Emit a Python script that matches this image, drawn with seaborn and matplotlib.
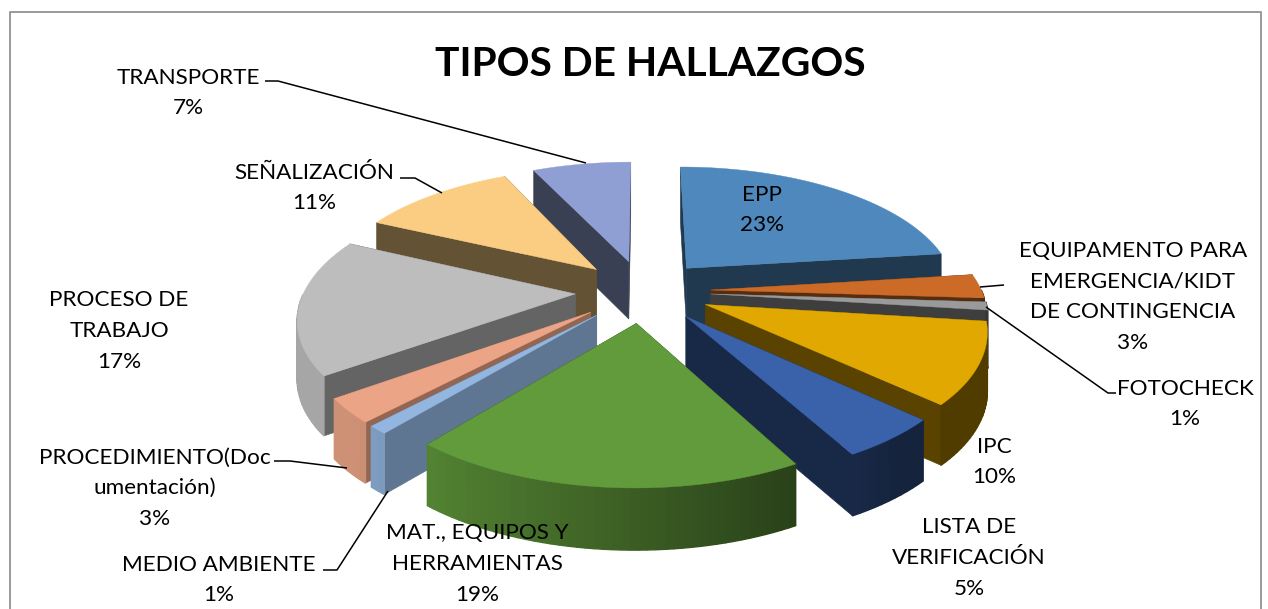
import numpy as np
import seaborn as sns
import matplotlib.pyplot as plt

# Data
categories = ['EPP', 'EQUIPAMENTO PARA\nEMERGENCIA/KIDT\nDE CONTINGENCIA', 'FOTOCHECK', 'IPC',
              'LISTA DE\nVERIFICACIÓN', 'MAT., EQUIPOS Y\nHERRAMIENTAS', 'MEDIO AMBIENTE',
              'PROCEDIMIENTO(Doc\numentación)', 'PROCESO DE\nTRABAJO', 'SEÑALIZACIÓN', 'TRANSPORTE']
values = [23, 3, 1, 10, 5, 19, 1, 3, 17, 11, 7]
colors = ['#4E88BC', '#CC6A28', '#9A9A9A', '#E0A800', '#3A62AA', '#629B3C',
          '#92B6E0', '#EBA586', '#BDBDBD', '#FBCD82', '#8F9FD3']
cut_shade = [0.42, 0.42, 0.40, 0.40, 0.42, 0.42, 0.65, 0.62, 0.53, 0.40, 0.40]

# label centres in pixels
label_xy = [(762, 210), (1133, 297), (1185, 404), (994, 462), (969, 558), (477, 564),
            (219, 580), (155, 488), (119, 331), (314, 188), (188, 93)]

# leader lines in pixels
leaders = [[(265, 81), (278, 81), (586, 163)],
           [(400, 178), (415, 178), (442, 193)],
           [(980, 287), (1004, 285)],
           [(986, 307), (1108, 393), (1116, 393)],
           [(274, 461), (290, 461), (347, 468)],
           [(323, 570), (337, 570), (388, 491)]]

# projection settings
CX, CY = 643, 291
A, B, K = 271, 125, 0.166
DEPTH = 58
EXPLODE = 0.25


def project(u, v):
    s = 1 / (1 + K * v)
    return CX + A * u * s, CY - B * v * s, DEPTH * s ** 0.3


def shade(c, f):
    return tuple(min(1, x * f) for x in plt.matplotlib.colors.to_rgb(c))


sns.set_theme(style='white')
plt.rcParams['font.family'] = ['Lato', 'DejaVu Sans']

fig = plt.figure(figsize=(12.68, 6.09), dpi=100)
ax = fig.add_axes([0, 0, 1, 1])
ax.set_xlim(0, 1268)
ax.set_ylim(609, 0)
ax.axis('off')

# chart frame
ax.plot([10, 10, 1261, 1261], [609, 12, 12, 609], color='#9A9A9A', lw=1.4, zorder=0)

edges = np.cumsum([0] + values) / sum(values) * 2 * np.pi
mids = (edges[:-1] + edges[1:]) / 2

# back slices first
order = np.argsort(-np.cos(mids))
for i in order:
    t = np.linspace(edges[i], edges[i + 1], max(3, int(values[i] * 2.5)))
    ou = EXPLODE * np.sin(mids[i])
    ov = EXPLODE * np.cos(mids[i])
    rim_x, rim_y, rim_d = project(ou + np.sin(t), ov + np.cos(t))
    ax0, ay0, ad0 = project(ou, ov)

    # flat cut walls
    for j in (0, -1):
        ax.fill([ax0, rim_x[j], rim_x[j], ax0],
                [ay0, rim_y[j], rim_y[j] + rim_d[j], ay0 + ad0],
                color=shade(colors[i], cut_shade[i]), lw=0.4)

    # round outer wall, lit from the left, only the part facing the viewer
    for j in range(len(t) - 1):
        tm = (t[j] + t[j + 1]) / 2
        if np.cos(tm) > 0:
            continue
        f = np.clip(0.6 - 0.38 * np.sin(tm), 0.36, 0.88)
        ax.fill([rim_x[j], rim_x[j + 1], rim_x[j + 1], rim_x[j]],
                [rim_y[j], rim_y[j + 1], rim_y[j + 1] + rim_d[j + 1], rim_y[j] + rim_d[j]],
                color=shade(colors[i], f), lw=1.0)

    # top face
    ax.fill(np.r_[ax0, rim_x], np.r_[ay0, rim_y], color=colors[i], lw=0.3)

for line in leaders:
    xs, ys = zip(*line)
    ax.plot(xs, ys, color='black', lw=1.1, solid_capstyle='butt')

for name, val, (x, y) in zip(categories, values, label_xy):
    ax.text(x, y, f'{name}\n{val}%', ha='center', va='center', fontsize=16.2,
            color='black', linespacing=1.66)

ax.text(650, 65, 'TIPOS DE HALLAZGOS', ha='center', va='center', fontsize=29.3,
        fontweight='bold', color='black')

fig.savefig('out.png', dpi=100)
